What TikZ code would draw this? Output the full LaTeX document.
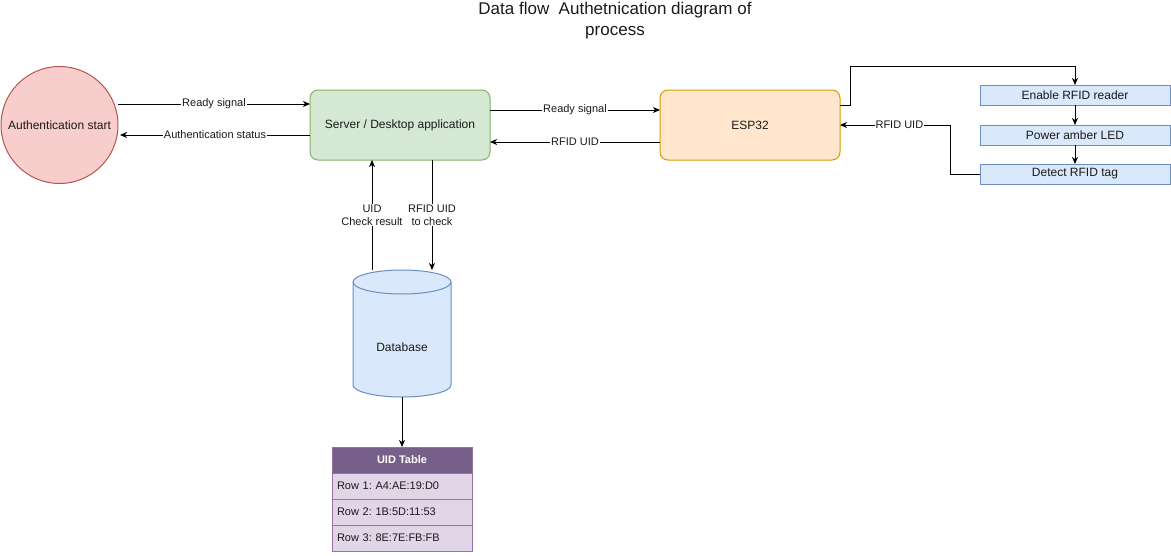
\documentclass[tikz,border=0pt]{standalone}
\usepackage{fontspec}
\setmainfont{Liberation Sans}
\usetikzlibrary{arrows.meta}
\definecolor{redF}{HTML}{F8CECC}\definecolor{redD}{HTML}{B85450}
\definecolor{grnF}{HTML}{D5E8D4}\definecolor{grnD}{HTML}{82B366}
\definecolor{orgF}{HTML}{FFE6CC}\definecolor{orgD}{HTML}{D79B00}
\definecolor{bluF}{HTML}{DAE8FC}\definecolor{bluD}{HTML}{6C8EBF}
\definecolor{purH}{HTML}{76608A}\definecolor{purF}{HTML}{E1D5E7}\definecolor{purD}{HTML}{9673A6}
\definecolor{txt}{HTML}{1A1A1A}
\frenchspacing
\begin{document}
\begin{tikzpicture}[x=1pt,y=-1pt,
  every node/.style={text=txt,font=\fontsize{12}{14}\selectfont},
  arr/.style={draw=black,line width=1pt,-{Stealth[length=7pt,width=6pt,inset=2pt]}},
  lbl/.style={fill=white,inner sep=1pt,font=\fontsize{11}{13}\selectfont},
  boxbig/.style={draw,line width=1pt,rounded corners=8pt,minimum width=180pt,minimum height=70pt,outer sep=0pt},
  stepbox/.style={draw=bluD,fill=bluF,line width=1pt,minimum width=190pt,minimum height=20pt,outer sep=0pt,inner sep=0pt},
  rowbox/.style={draw=purD,fill=purF,line width=1pt,minimum height=26pt,text width=130pt,inner xsep=5pt,align=left,outer sep=0pt,font=\fontsize{11}{13}\selectfont}
]
\useasboundingbox (0,0) rectangle (1171,555);

% title
\node[align=center,font=\fontsize{17}{21}\selectfont] (title) at (615,20.5) {Data flow\ \ Authetnication diagram of\\process};

% nodes
\node[circle,draw=redD,fill=redF,line width=1pt,minimum size=117pt,inner sep=0pt,outer sep=0pt] (start) at (59.5,125) {Authentication start};
\node[boxbig,draw=grnD,fill=grnF] (server) at (400,125) {Server / Desktop application};
\node[boxbig,draw=orgD,fill=orgF] (esp) at (750,125) {ESP32};
\node[stepbox] (enable) at (1075,95) {Enable RFID reader};
\node[stepbox] (power) at (1075,135) {Power amber LED};
\node[stepbox] (detect) at (1075,174) {Detect RFID tag};

% database cylinder
\path[draw=bluD,fill=bluF,line width=1pt] (353,282) -- (353,385) arc[start angle=180,end angle=360,x radius=49pt,y radius=12pt] -- (451,282) arc[start angle=0,end angle=180,x radius=49pt,y radius=12pt] -- cycle;
\draw[bluD,line width=1pt] (353,282) arc[start angle=180,end angle=360,x radius=49pt,y radius=12pt];
\node[minimum width=98pt,minimum height=127pt,inner sep=0pt,outer sep=0pt] (db) at (402,333.5) {};
\node (dblabel) at (402,347) {Database};

% table
\node[draw=purD,fill=purH,line width=1pt,minimum width=140pt,minimum height=26pt,outer sep=0pt,inner sep=0pt,text=white,font=\bfseries\fontsize{11}{13}\selectfont] (thead) at (402,460) {UID Table};
\node[rowbox,anchor=north] (row1) at (thead.south) {Row 1: A4:AE:19:D0};
\node[rowbox,anchor=north] (row2) at (row1.south) {Row 2: 1B:5D:11:53};
\node[rowbox,anchor=north] (row3) at (row2.south) {Row 3: 8E:7E:FB:FB};

% connectors
\draw[arr] ([yshift=21pt]start.east) -- ([yshift=21pt]server.west) node[midway,lbl] {Ready signal};
\draw[arr] ([yshift=-10pt]server.west) -- ([yshift=-10pt,xshift=2pt]start.east) node[midway,lbl] {Authentication status};
\draw[arr] ([yshift=15pt]server.east) -- ([yshift=15pt]esp.west) node[midway,lbl] {Ready signal};
\draw[arr] ([yshift=-17pt]esp.west) -- ([yshift=-17pt]server.east) node[midway,lbl] {RFID UID};
\coordinate (c1) at (850,66);
\draw[arr] ([yshift=20pt]esp.east) -| (c1) -| (enable.north);
\draw[arr] (enable.south) -- (power.north);
\draw[arr] (power.south) -- (detect.north);
\draw[arr] (detect.west) -- ++(-30,0) |- (esp.east) node[pos=0.73,lbl] {RFID UID};
\draw[arr] ([xshift=-30pt]db.north) -- ([xshift=-28pt]server.south) node[pos=0.5,lbl,align=center] {UID\\Check result};
\draw[arr] ([xshift=32pt]server.south) -- ([xshift=30pt]db.north) node[pos=0.5,lbl,align=center] {RFID UID\\to check};
\draw[arr] (db.south) -- (thead.north);
\end{tikzpicture}
\end{document}
